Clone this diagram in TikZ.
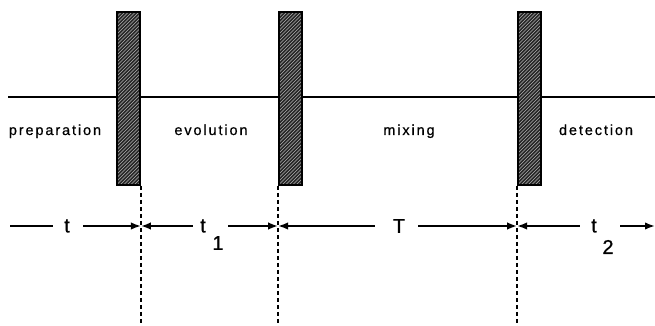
\documentclass[tikz,border=0pt]{standalone}
\usepackage{fontspec}
\setmainfont{Liberation Sans}
\newfontfamily\spaced[LetterSpace=13,FakeBold=0.6]{Liberation Sans}
\newfontfamily\symfont[FakeBold=0.8]{Liberation Sans}
\usetikzlibrary{arrows.meta}
\tikzset{
  base line/.style={line width=1.8pt},
  pulse/.style={draw=black, line width=1.8pt, fill=black!85, minimum width=23pt,
    minimum height=173pt, inner sep=0pt,
    path picture={\foreach \k in {-200,-196.5,...,40}
      \draw[white!70!black, line width=0.6pt] ([xshift=\k pt]path picture bounding box.south west) -- ++(200pt,200pt);}},
  guide/.style={line width=1.4pt, dash pattern=on 4pt off 3pt},
  arr/.style={line width=1.8pt, -{Latex[length=10pt,width=7.5pt]}},
  seg/.style={line width=1.8pt},
  gap/.style={inner sep=0pt, minimum height=1pt},
  phase/.style={font=\spaced\fontsize{14.5}{16}\selectfont, anchor=base, inner sep=0pt},
  sym/.style={font=\symfont\fontsize{20}{22}\selectfont, inner sep=0pt}
}
\begin{document}
\begin{tikzpicture}[x=1pt, y=-1pt]
\useasboundingbox (0,0) rectangle (655,326);
% base line
\coordinate (h0) at (8,97);
\coordinate (h1) at (655,97);
\draw[base line] (h0) -- (h1);
% pulses
\node[pulse] (p1) at (128.5,98.5) {};
\node[pulse] (p2) at (290.5,98.5) {};
\node[pulse] (p3) at (529.5,98.5) {};
% phase labels
\node[phase] (prep) at (55,135) {preparation};
\node[phase] (evol) at (211,135) {evolution};
\node[phase] (mix) at (409,135) {mixing};
\node[phase] (det) at (596,135) {detection};
% guides
\coordinate (bot) at (0,326);
\coordinate (row) at (0,226);
\draw[guide] (p1.south east) -- (p1.south east |- bot);
\draw[guide] (p2.south west) -- (p2.south west |- bot);
\draw[guide] (p3.south west) -- (p3.south west |- bot);
% gaps for labels in the arrow row
\node[gap, minimum width=30pt] (g0) at (68,226) {};
\node[gap, minimum width=35pt] (g1) at (210.5,226) {};
\node[gap, minimum width=43pt] (gT) at (396.5,226) {};
\node[gap, minimum width=40pt] (g2) at (600,226) {};
\coordinate (a0) at (10,226);
\coordinate (a4) at (655,226);
% labels
\node[sym] (lt) at (67,226) {t};
\node[sym] (lt1) at (203,226) {t};
\node[sym] (n1) at (218,243) {1};
\node[sym] (lT) at (399,226) {T};
\node[sym] (lt2) at (594,226) {t};
\node[sym] (n2) at (608,247) {2};
% arrows
\draw[seg] (a0) -- (g0.west);
\draw[arr] (g0.east) -- (g0.east -| p1.south east);
\draw[arr] (g1.west) -- (g1.west -| p1.south east);
\draw[arr] (g1.east) -- (g1.east -| p2.south west);
\draw[arr] (gT.west) -- (gT.west -| p2.south west);
\draw[arr] (gT.east) -- (gT.east -| p3.south west);
\draw[arr] (g2.west) -- (g2.west -| p3.south west);
\draw[arr] (g2.east) -- (a4);
\end{tikzpicture}
\end{document}
